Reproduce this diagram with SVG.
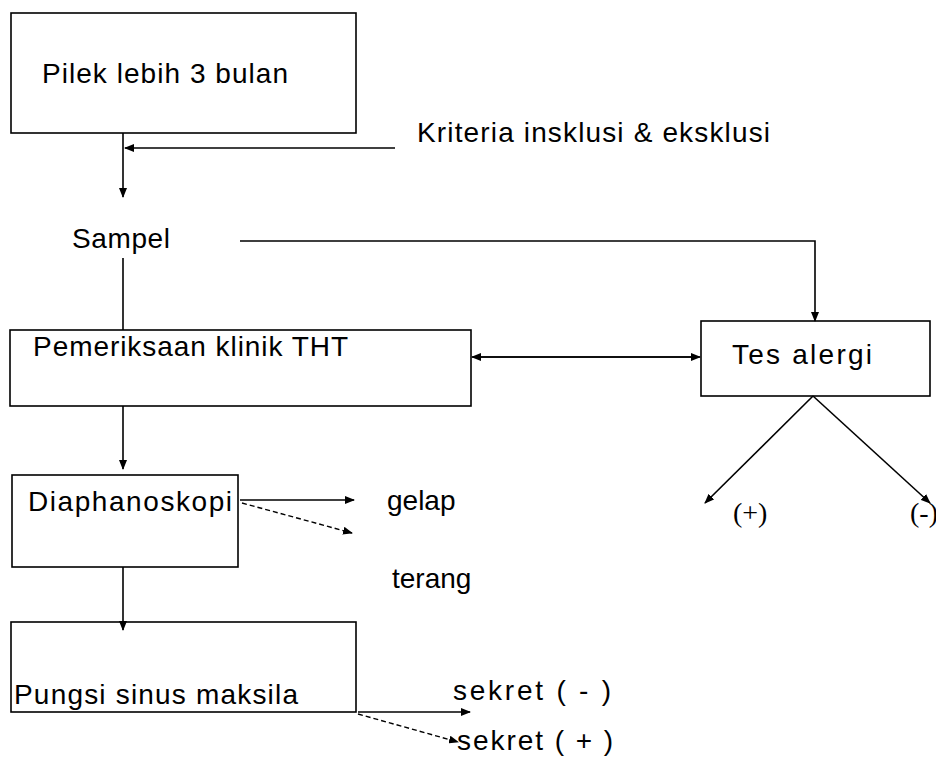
<svg xmlns="http://www.w3.org/2000/svg" width="936" height="758" viewBox="0 0 936 758">
<defs>
<marker id="ah" markerWidth="10" markerHeight="8" refX="9" refY="4" orient="auto" markerUnits="userSpaceOnUse">
<path d="M0,0 L10,4 L0,8 Z" fill="#000"/>
</marker>
<style>
.box{fill:#fff;stroke:#000;stroke-width:1.6}
.t{font-family:"Liberation Sans",Arial,sans-serif;font-size:28px;fill:#000}
.s{font-family:"Liberation Serif","Times New Roman",serif;font-size:28px;fill:#000}
.c{fill:none;stroke:#000;stroke-width:1.6}
.d{fill:none;stroke:#000;stroke-width:1.4;stroke-dasharray:5 3}
</style>
</defs>
<rect width="936" height="758" fill="#fff"/>
<g id="n-pilek"><rect class="box" x="11" y="13" width="345" height="120"/><text class="t" x="42" y="83" textLength="246">Pilek lebih 3 bulan</text></g>
<g id="n-kriteria"><text class="t" x="417" y="142" textLength="353">Kriteria insklusi &amp; eksklusi</text></g>
<g id="n-sampel"><text class="t" x="72" y="248" textLength="98">Sampel</text></g>
<g id="n-pemeriksaan"><rect class="box" x="10" y="330" width="461" height="76"/><text class="t" x="33" y="356" textLength="315">Pemeriksaan klinik THT</text></g>
<g id="n-tes"><rect class="box" x="701" y="321" width="229" height="75"/><text class="t" x="732" y="364" textLength="140">Tes alergi</text></g>
<g id="n-pos"><text class="s" x="733" y="522">(+)</text></g>
<g id="n-neg"><text class="s" x="910" y="522">(-)</text></g>
<g id="n-diaph"><rect class="box" x="12" y="475" width="226" height="92"/><text class="t" x="28" y="511" textLength="204">Diaphanoskopi</text></g>
<g id="n-gelap"><text class="t" x="387" y="510">gelap</text></g>
<g id="n-terang"><text class="t" x="392" y="588">terang</text></g>
<g id="n-pungsi"><rect class="box" x="11" y="622" width="345" height="90"/><text class="t" x="14" y="704" textLength="284">Pungsi sinus maksila</text></g>
<g id="n-sekmin"><text class="t" x="453" y="700" textLength="158">sekret ( - )</text></g>
<g id="n-sekplus"><text class="t" x="457" y="750" textLength="156">sekret ( + )</text></g>
<g id="connectors">
<path class="c" d="M123,133 V197" marker-end="url(#ah)"/>
<path class="c" d="M395,148 H125" marker-end="url(#ah)"/>
<path class="c" d="M123,258 V330"/>
<path class="c" d="M240,241 H815 V321" marker-end="url(#ah)"/>
<path class="c" d="M474,357 H700" marker-end="url(#ah)"/>
<path class="c" d="M698,357 H472" marker-end="url(#ah)"/>
<path class="c" d="M813,396 L705,503" marker-end="url(#ah)"/>
<path class="c" d="M813,396 L930,503" marker-end="url(#ah)"/>
<path class="c" d="M123,406 V469" marker-end="url(#ah)"/>
<path class="c" d="M240,500 H354" marker-end="url(#ah)"/>
<path class="d" d="M242,503 L352,533" marker-end="url(#ah)"/>
<path class="c" d="M123,567 V630" marker-end="url(#ah)"/>
<path class="c" d="M358,712 H470" marker-end="url(#ah)"/>
<path class="d" d="M358,714 L458,742" marker-end="url(#ah)"/>
</g>
</svg>
